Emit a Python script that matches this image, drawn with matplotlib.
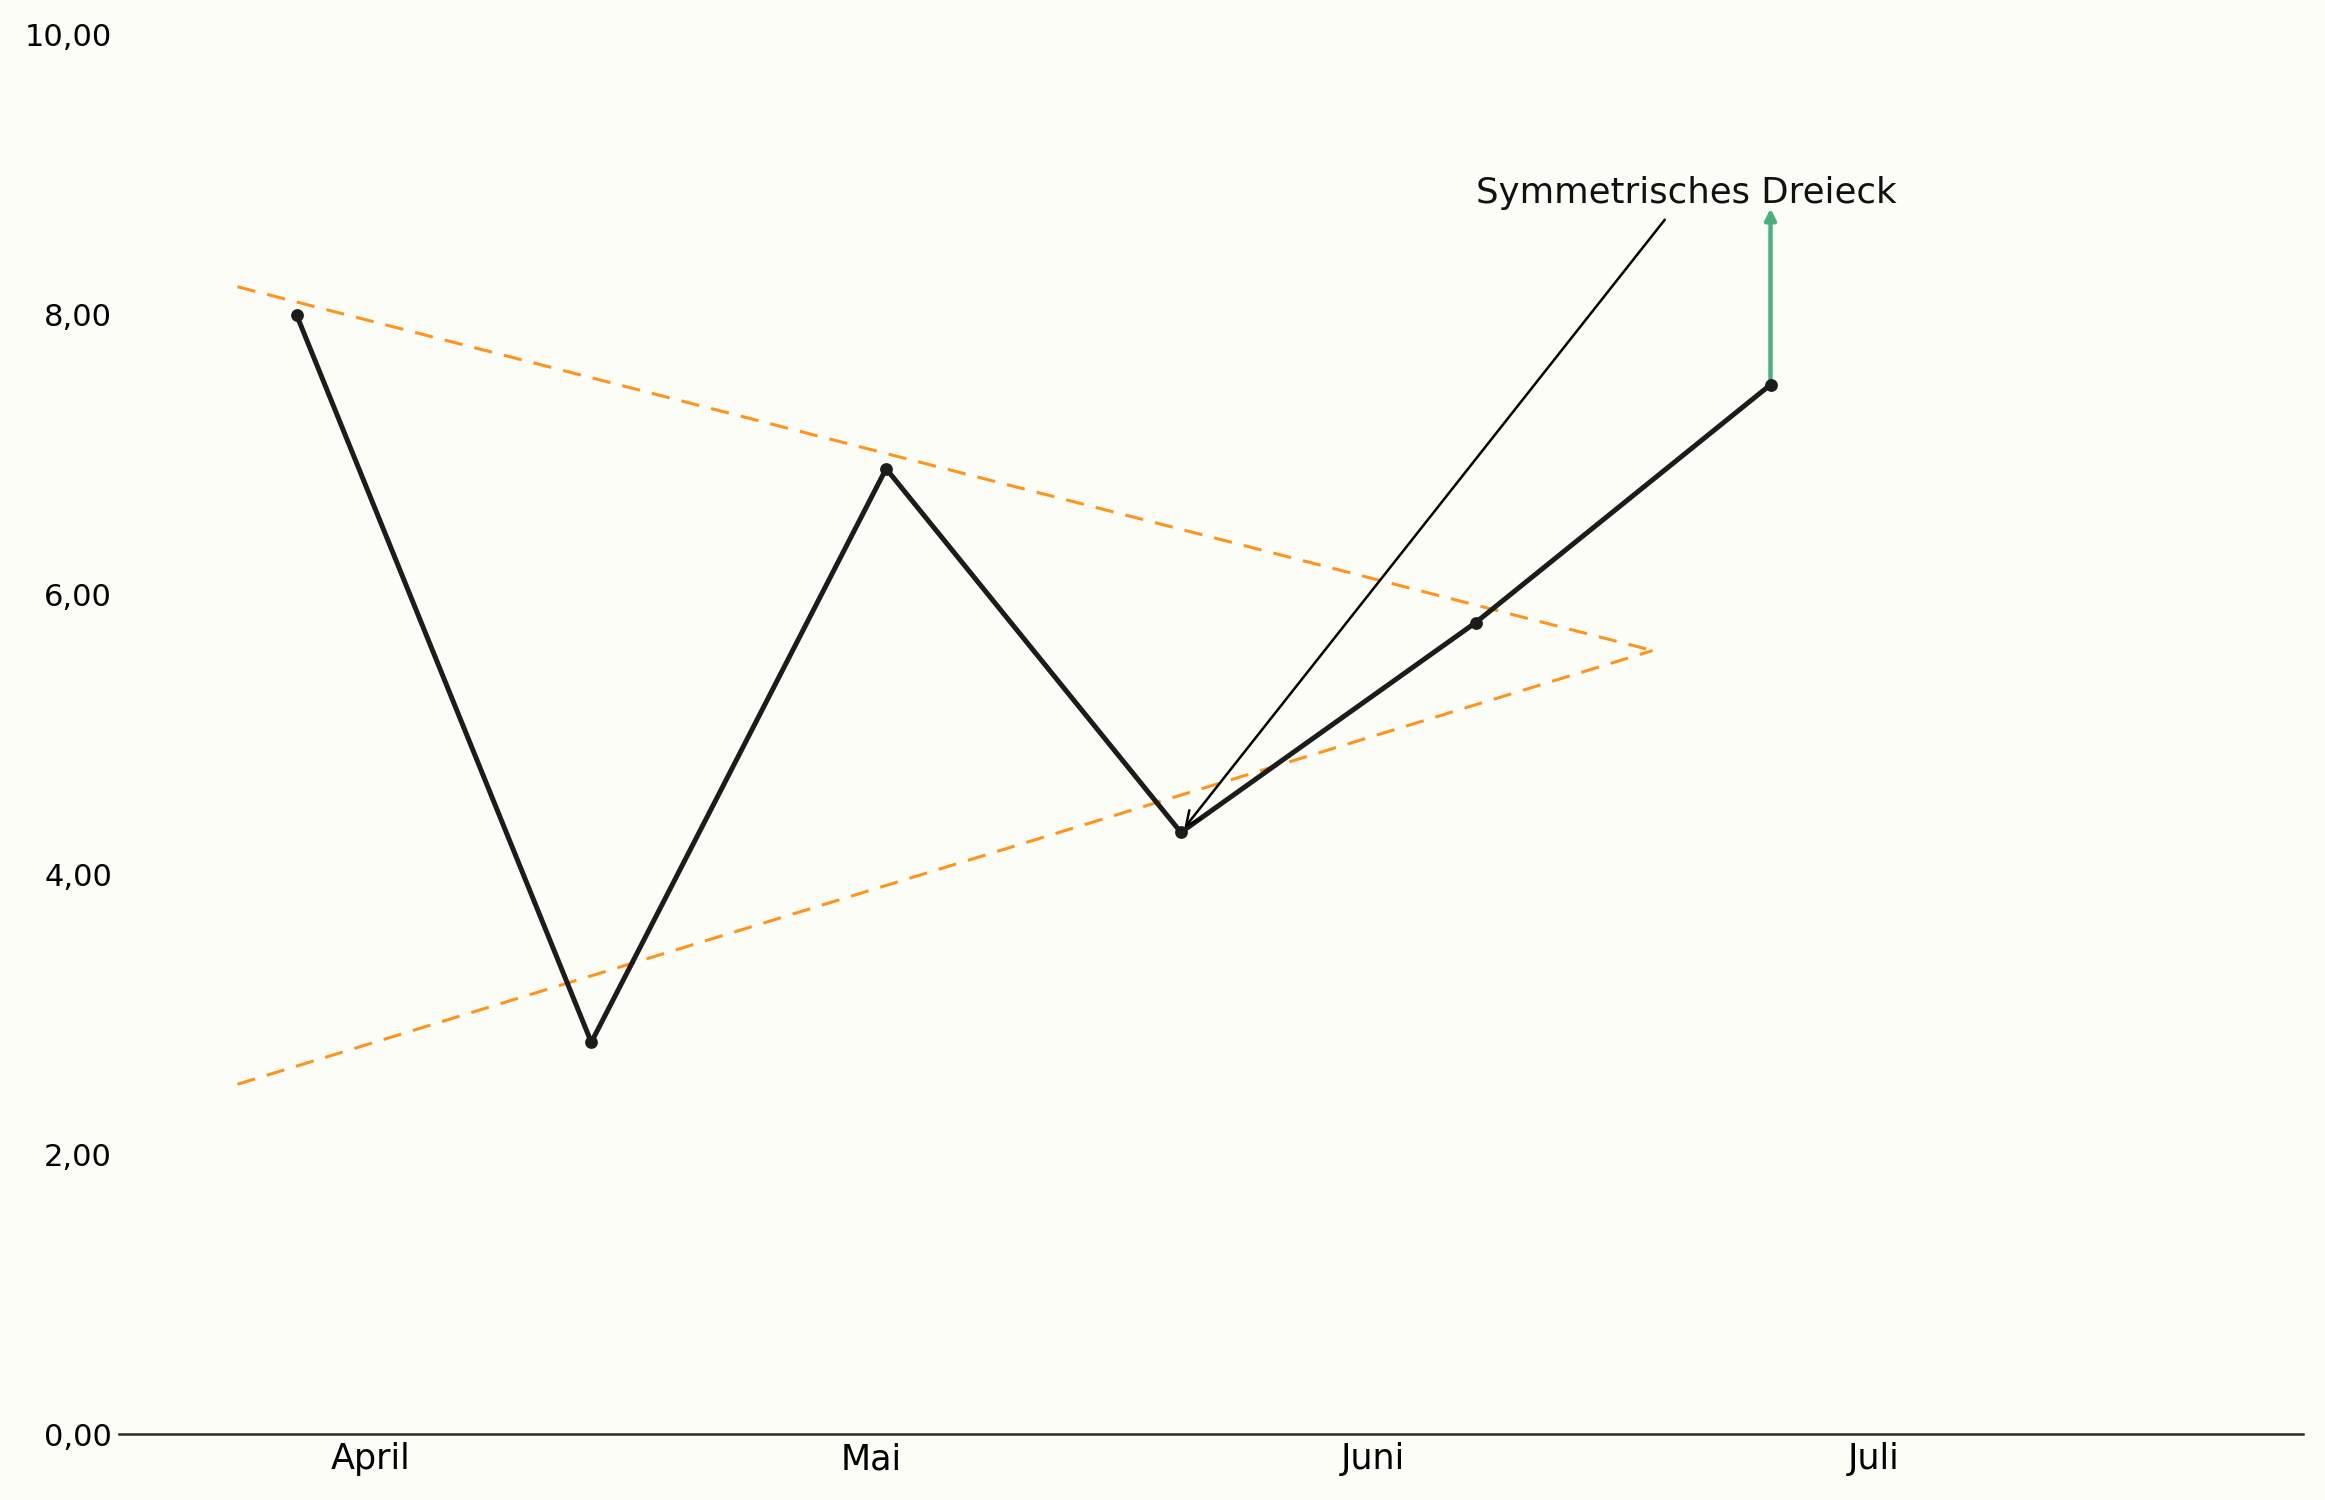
import matplotlib
matplotlib.use("Agg")
import matplotlib.pyplot as plt

# Data
x_idx = [0, 1, 2, 3, 4, 5]
values = [8.0, 2.8, 6.9, 4.3, 5.8, 7.5]
tick_pos = [0.25, 1.95, 3.65, 5.35]
tick_labels = ["April", "Mai", "Juni", "Juli"]
upper_x = [-0.2, 4.6]
upper_y = [8.2, 5.6]
lower_x = [-0.2, 4.6]
lower_y = [2.5, 5.6]
breakout_start = 7.5
breakout_end = 8.76
annot_text = "Symmetrisches Dreieck"
annot_point = (3, 4.3)
annot_text_pos = (4.0, 8.8)

bg = "#fdfdf8"
fig = plt.figure(figsize=(11.625, 7.5), dpi=200, facecolor=bg)
ax = fig.add_axes([0.0512, 0.044, 0.9393, 0.9327], facecolor=bg)

ax.plot(upper_x, upper_y, color="#ff931e", lw=1.1, linestyle=(0, (6, 4)))
ax.plot(lower_x, lower_y, color="#ff931e", lw=1.1, linestyle=(0, (6, 4)))
ax.plot(x_idx, values, color="#1c1c1c", lw=1.8, marker="o", markersize=3.6, zorder=3)

ax.annotate("", xy=(x_idx[-1], breakout_end), xytext=(x_idx[-1], breakout_start),
            arrowprops=dict(arrowstyle="-|>", color="#4caf7d", lw=1.6,
                            mutation_scale=8, shrinkA=0, shrinkB=0), zorder=2)

ax.annotate(annot_text, xy=annot_point, xytext=annot_text_pos,
            fontsize=12.8, color="#111111",
            arrowprops=dict(arrowstyle="->", color="#000000", lw=0.9))

ax.set_xlim(-0.602, 6.806)
ax.set_ylim(0, 10)
ax.set_yticks([0, 2, 4, 6, 8, 10])
ax.set_yticklabels([f"{v:.2f}".replace(".", ",") for v in [0, 2, 4, 6, 8, 10]], fontsize=11)
ax.set_xticks(tick_pos)
ax.set_xticklabels(tick_labels, fontsize=12.6)
ax.tick_params(axis="x", length=0, pad=3)
ax.tick_params(axis="y", length=0, pad=2.5)
for s in ["top", "right", "left"]:
    ax.spines[s].set_visible(False)
ax.spines["bottom"].set_color("#2a2a2a")
ax.spines["bottom"].set_linewidth(0.9)

fig.savefig("out.png", dpi=200, facecolor=bg)
